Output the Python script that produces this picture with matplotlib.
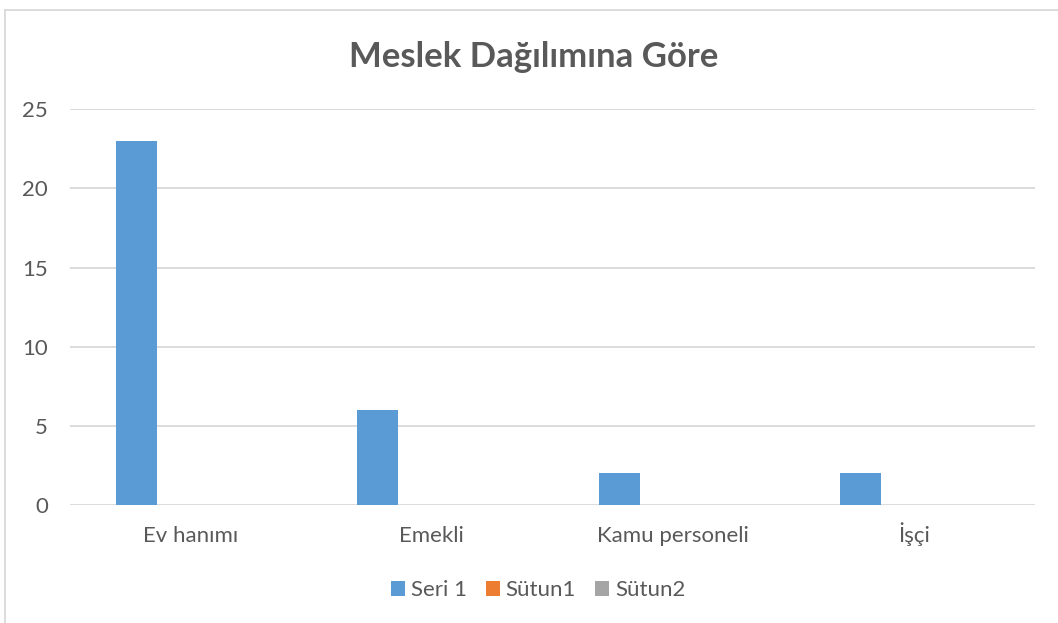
import matplotlib.pyplot as plt
import numpy as np
from matplotlib.lines import Line2D

categories = ["Ev hanımı", "Emekli", "Kamu personeli", "İşçi"]
seri1 = [23, 6, 2, 2]
sutun1 = [0, 0, 0, 0]
sutun2 = [0, 0, 0, 0]
series_names = ["Seri 1", "Sütun1", "Sütun2"]
colors = ["#5B9BD5", "#ED7D31", "#A5A5A5"]
yticks = [0, 5, 10, 15, 20, 25]

plt.rcParams['font.family'] = ['Lato', 'DejaVu Sans']
text_color = "#595959"

W, H = 1058, 623
fig = plt.figure(figsize=(W / 100, H / 100), dpi=100)
ax = fig.add_axes([70 / W, 1 - 505 / H, (1035 - 70) / W, (505 - 109.3) / H])

x = np.arange(len(categories))
width = 0.17
offset = 0.224
for i, (vals, name, c) in enumerate(zip([seri1, sutun1, sutun2], series_names, colors)):
    ax.bar(x + (i - 1) * offset, vals, width, color=c, label=name, zorder=3)

ax.set_xlim(-0.5, len(categories) - 0.5)
ax.set_ylim(0, 25)
ax.set_yticks(yticks)
ax.set_xticks(x)
ax.set_xticklabels(categories, va='baseline')
ax.tick_params(length=0, labelsize=16, colors=text_color)
ax.tick_params(axis='y', pad=16)
ax.tick_params(axis='x', pad=27)
ax.grid(axis='y', color="#D9D9D9", linewidth=1.3, zorder=0)
for s in ax.spines.values():
    s.set_visible(False)

fig.text(534 / W, 1 - 57 / H, "Meslek Dağılımına Göre", ha='center', va='center',
         fontsize=25, fontweight='bold', color=text_color)

leg = fig.legend(loc='center', bbox_to_anchor=(538 / W, 1 - 590 / H), ncol=3,
                 frameon=False, fontsize=16, handlelength=0.65, handleheight=0.65,
                 handletextpad=0.25, columnspacing=0.85)
for t in leg.get_texts():
    t.set_color(text_color)

# chart area border (cropped on right and bottom)
fig.add_artist(Line2D([5 / W, 5 / W], [0, 1 - 10 / H], color="#D9D9D9", lw=1.3))
fig.add_artist(Line2D([5 / W, 1], [1 - 10 / H, 1 - 10 / H], color="#D9D9D9", lw=1.3))

fig.savefig("out.png", dpi=100)
